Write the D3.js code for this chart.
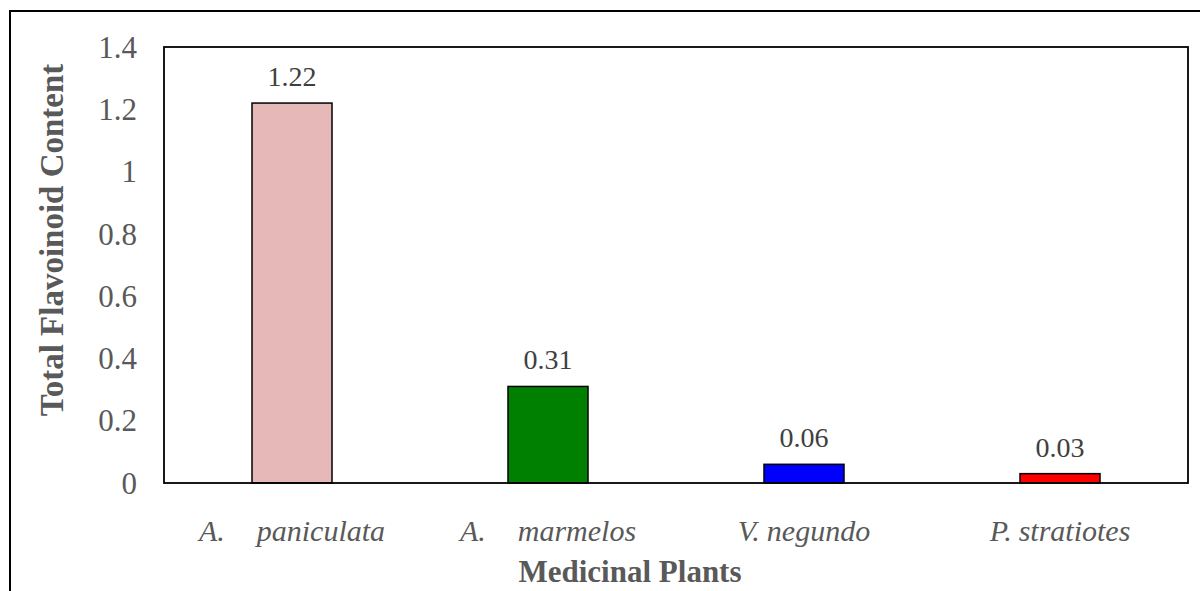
<!DOCTYPE html>
<html>
<head>
<meta charset="utf-8">
<script src="https://cdn.jsdelivr.net/npm/d3@7"></script>
<style>
  body { margin: 0; background: #fff; }
  svg { display: block; }
</style>
</head>
<body>
<svg id="chart"></svg>
<script>
const genus = ["A.", "A.", "V.", "P."];
const species = ["paniculata", "marmelos", "negundo", "stratiotes"];
const values = [1.22, 0.31, 0.06, 0.03];
const barColors = ["#E6B8B7", "#008000", "#0000FF", "#FF0000"];
const yTicks = [0, 0.2, 0.4, 0.6, 0.8, 1, 1.2, 1.4];

function makeBarChart() {
    let w = 1200;
    let h = 591;
    let textColor = "#595959";
    let serif = "'Liberation Serif', 'Times New Roman', serif";

    let svg = d3.select("#chart")
        .attr("width", w)
        .attr("height", h);

    // chart border, runs off the right and bottom edge
    svg.append("rect")
        .attr("x", 10).attr("y", 11)
        .attr("width", 1220).attr("height", 620)
        .attr("fill", "white")
        .attr("stroke", "black")
        .attr("stroke-width", 2);

    let plot = { left: 164, top: 47, right: 1188, bottom: 483 };

    let x = d3.scaleBand()
        .domain(d3.range(values.length))
        .range([plot.left, plot.right])
        .paddingInner(0.6875)
        .paddingOuter(0.34375);

    let y = d3.scaleLinear()
        .domain([0, 1.4])
        .range([plot.bottom, plot.top]);

    // bars
    svg.selectAll("rect.bar")
        .data(values)
        .enter()
        .append("rect")
        .classed("bar", true)
        .attr("x", (d, i) => x(i))
        .attr("y", d => y(d))
        .attr("width", x.bandwidth())
        .attr("height", d => y(0) - y(d))
        .attr("fill", (d, i) => barColors[i])
        .attr("stroke", "black")
        .attr("stroke-width", 1.5);

    // plot area frame
    svg.append("rect")
        .attr("x", plot.left).attr("y", plot.top)
        .attr("width", plot.right - plot.left)
        .attr("height", plot.bottom - plot.top)
        .attr("fill", "none")
        .attr("stroke", "black")
        .attr("stroke-width", 1.8);

    // y axis labels (no tick marks)
    let yAxis = d3.axisLeft(y)
        .tickValues(yTicks)
        .tickSize(0)
        .tickPadding(27)
        .tickFormat(d => String(d));

    let gy = svg.append("g")
        .attr("transform", `translate(${plot.left},0)`)
        .call(yAxis);
    gy.select(".domain").remove();
    gy.selectAll("text")
        .attr("font-family", serif)
        .attr("font-size", "31px")
        .attr("fill", textColor)
        .attr("dy", "0.33em");

    // data labels
    svg.selectAll("text.value")
        .data(values)
        .enter()
        .append("text")
        .classed("value", true)
        .attr("x", (d, i) => x(i) + x.bandwidth() / 2)
        .attr("y", d => y(d) - 17)
        .attr("text-anchor", "middle")
        .attr("font-family", serif)
        .attr("font-size", "28px")
        .attr("fill", "#404040")
        .text(d => d.toFixed(2));

    // category labels
    let cat = svg.selectAll("text.cat")
        .data(values)
        .enter()
        .append("text")
        .classed("cat", true)
        .attr("x", (d, i) => x(i) + x.bandwidth() / 2)
        .attr("y", 541)
        .attr("text-anchor", "middle")
        .attr("font-family", serif)
        .attr("font-size", "30px")
        .attr("font-style", "italic")
        .attr("fill", textColor);
    cat.append("tspan").text((d, i) => genus[i]);
    cat.append("tspan")
        .attr("dx", (d, i) => genus[i] === "A." ? 32 : 7)
        .text((d, i) => species[i]);

    // axis titles
    svg.append("text")
        .attr("x", 630)
        .attr("y", 582)
        .attr("text-anchor", "middle")
        .attr("font-family", serif)
        .attr("font-size", "31px")
        .attr("font-weight", "bold")
        .attr("fill", textColor)
        .text("Medicinal Plants");

    svg.append("text")
        .attr("transform", "translate(63,240) rotate(-90)")
        .attr("text-anchor", "middle")
        .attr("font-family", serif)
        .attr("font-size", "33px")
        .attr("font-weight", "bold")
        .attr("fill", textColor)
        .text("Total Flavoinoid Content");
}

window.onload = function() {
    makeBarChart();
}
</script>
</body>
</html>
